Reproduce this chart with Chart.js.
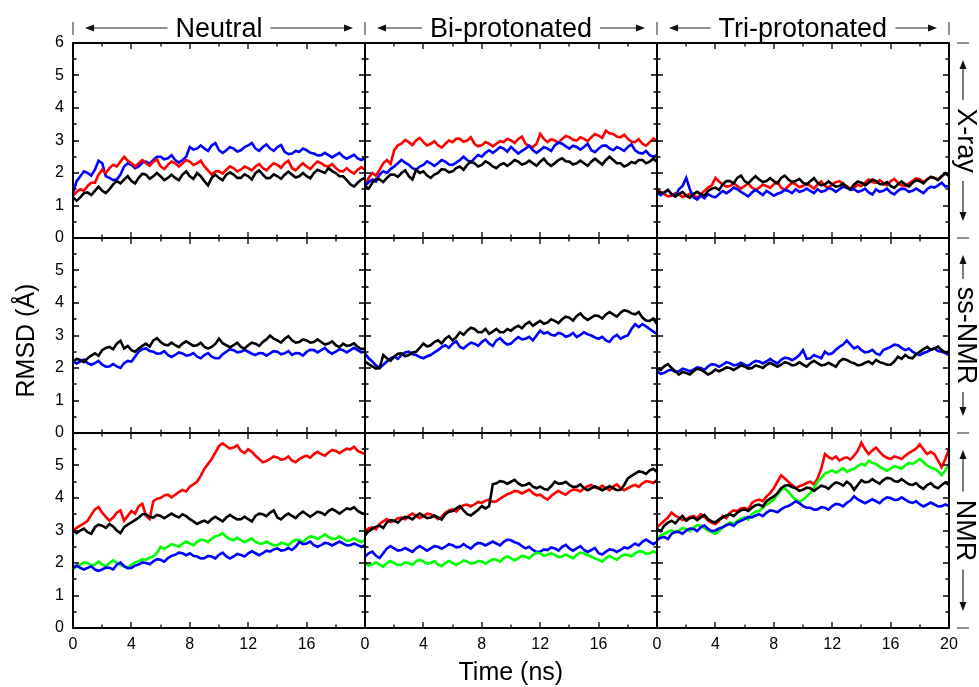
<!DOCTYPE html>
<html><head><meta charset="utf-8">
<script src="https://cdn.jsdelivr.net/npm/chart.js@4.4.1/dist/chart.umd.min.js"></script>
<style>
html,body{margin:0;padding:0;background:#fff;}
body{width:979px;height:687px;position:relative;overflow:hidden;font-family:"Liberation Sans",Arial,Helvetica,sans-serif;}
canvas{position:absolute;}
.lbl{position:absolute;white-space:nowrap;color:#000;}
svg{position:absolute;left:0;top:0;}
</style></head>
<body>
<script>
// ---------------- data ----------------
const time = [0,0.25,0.5,0.75,1,1.25,1.5,1.75,2,2.25,2.5,2.75,3,3.25,3.5,3.75,4,4.25,4.5,4.75,5,5.25,5.5,5.75,6,6.25,6.5,6.75,7,7.25,7.5,7.75,8,8.25,8.5,8.75,9,9.25,9.5,9.75,10,10.25,10.5,10.75,11,11.25,11.5,11.75,12,12.25,12.5,12.75,13,13.25,13.5,13.75,14,14.25,14.5,14.75,15,15.25,15.5,15.75,16,16.25,16.5,16.75,17,17.25,17.5,17.75,18,18.25,18.5,18.75,19,19.25,19.5,19.75,20];
const xTickLabels = ['0','4','8','12','16','20'];
const yTickLabels = ['0','1','2','3','4','5','6'];
const columnTitles = ['Neutral','Bi-protonated','Tri-protonated'];
const rowTitles = ['X-ray','ss-NMR','NMR'];
const xTitle = 'Time (ns)';
const yTitle = 'RMSD (Å)';

// X-ray / Neutral
const xray_neutral_black = [1.25,1.15,1.25,1.38,1.4,1.32,1.45,1.58,1.45,1.38,1.5,1.65,1.75,1.68,1.8,1.9,1.75,1.68,1.85,1.98,1.95,1.82,1.9,2.0,1.9,1.78,1.85,1.95,1.85,1.78,1.95,2.05,1.9,1.82,2.0,1.9,1.75,1.62,1.85,1.95,1.85,1.78,1.95,2.02,1.95,1.85,1.85,1.96,1.9,1.8,2.0,2.08,1.95,1.84,1.85,1.96,1.9,1.82,1.95,2.04,1.95,1.86,1.9,2.0,1.9,1.84,2.0,2.1,2.05,2.0,2.15,2.06,2.0,1.9,1.9,1.78,1.65,1.58,1.7,1.8,1.85];
const xray_neutral_red   = [1.3,1.42,1.5,1.45,1.6,1.7,1.7,1.95,2.1,2.0,2.15,2.25,2.2,2.35,2.5,2.38,2.3,2.2,2.3,2.4,2.3,2.22,2.35,2.42,2.2,2.12,2.25,2.35,2.3,2.2,2.3,2.4,2.35,2.25,2.3,2.38,2.2,2.08,1.95,2.05,2.05,1.98,2.1,2.2,2.15,2.05,2.1,2.2,2.15,2.08,2.2,2.28,2.15,2.08,2.2,2.3,2.25,2.16,2.3,2.38,2.15,2.08,2.2,2.3,2.2,2.12,2.25,2.35,2.3,2.22,2.2,2.28,2.15,2.06,2.05,2.15,2.05,1.98,2.1,2.18,2.1];
const xray_neutral_blue  = [1.4,1.75,1.9,2.05,2.0,1.92,2.1,2.38,2.3,1.9,1.85,1.78,1.8,1.95,2.2,2.3,2.25,2.15,2.2,2.32,2.35,2.28,2.4,2.5,2.5,2.42,2.45,2.55,2.4,2.32,2.4,2.5,2.8,2.72,2.75,2.85,2.75,2.68,2.85,2.92,2.7,2.62,2.7,2.8,2.75,2.66,2.7,2.8,2.85,2.92,2.75,2.68,2.8,2.88,2.75,2.68,2.8,2.86,2.65,2.58,2.6,2.68,2.65,2.75,2.7,2.62,2.6,2.54,2.55,2.62,2.55,2.48,2.55,2.62,2.5,2.44,2.5,2.56,2.45,2.4,2.45];
// X-ray / Bi-protonated
const xray_bi_black = [1.6,1.52,1.7,1.82,1.8,1.72,1.85,1.95,1.95,1.88,2.0,2.08,1.9,1.8,2.1,2.0,2.05,1.92,1.85,1.95,2.0,2.12,2.1,2.02,2.05,2.15,2.2,2.1,2.25,2.35,2.3,2.2,2.25,2.36,2.3,2.2,2.15,2.25,2.3,2.22,2.3,2.4,2.35,2.26,2.3,2.38,2.3,2.22,2.35,2.44,2.3,2.22,2.3,2.4,2.45,2.36,2.35,2.26,2.3,2.38,2.3,2.22,2.35,2.44,2.35,2.26,2.4,2.5,2.4,2.3,2.3,2.2,2.25,2.34,2.3,2.4,2.4,2.3,2.35,2.44,2.35];
const xray_bi_red   = [1.6,1.85,2.0,1.92,2.1,2.3,2.4,2.28,2.7,2.85,2.9,3.02,2.95,2.86,3.0,3.08,2.95,2.85,2.9,2.98,2.85,2.78,2.9,3.0,2.95,3.06,3.05,2.96,3.0,3.1,2.9,2.82,2.85,2.95,2.9,2.82,2.9,2.98,2.95,3.05,3.0,2.92,3.05,3.12,2.9,2.82,2.8,2.9,3.2,3.05,2.95,3.04,3.0,2.92,3.05,3.14,3.1,3.02,3.0,3.1,3.05,2.98,3.1,3.2,3.15,3.08,3.3,3.22,3.2,3.12,3.1,3.18,3.05,2.96,2.95,3.04,2.9,2.84,2.95,3.06,3.0];
const xray_bi_blue  = [1.6,1.72,1.8,1.74,1.95,2.05,2.0,2.12,2.2,2.3,2.4,2.32,2.25,2.15,2.1,2.2,2.25,2.36,2.3,2.22,2.3,2.4,2.35,2.26,2.25,2.32,2.4,2.5,2.4,2.32,2.45,2.55,2.5,2.62,2.7,2.62,2.7,2.8,2.75,2.66,2.8,2.7,2.6,2.68,2.75,2.84,2.7,2.62,2.7,2.8,2.75,2.68,2.85,2.94,2.9,2.82,2.75,2.84,2.8,2.72,2.8,2.9,2.7,2.64,2.75,2.84,2.85,2.76,2.7,2.8,2.75,2.68,2.8,2.88,2.7,2.62,2.6,2.68,2.55,2.5,2.55];
// X-ray / Tri-protonated
const xray_tri_black = [1.45,1.38,1.4,1.48,1.35,1.28,1.35,1.42,1.3,1.24,1.35,1.42,1.35,1.3,1.45,1.52,1.55,1.48,1.65,1.75,1.75,1.68,1.85,1.92,1.75,1.68,1.8,1.9,1.8,1.72,1.75,1.84,1.75,1.68,1.85,1.92,1.8,1.72,1.75,1.82,1.7,1.64,1.75,1.84,1.7,1.62,1.65,1.74,1.65,1.58,1.6,1.68,1.55,1.5,1.65,1.74,1.7,1.62,1.7,1.8,1.75,1.66,1.65,1.72,1.6,1.54,1.65,1.74,1.65,1.58,1.7,1.78,1.75,1.68,1.8,1.88,1.85,1.78,1.9,2.0,1.9];
const xray_tri_red   = [1.5,1.42,1.35,1.28,1.3,1.38,1.35,1.26,1.3,1.36,1.3,1.24,1.35,1.45,1.55,1.62,1.85,1.74,1.65,1.58,1.6,1.68,1.6,1.52,1.6,1.68,1.55,1.48,1.55,1.64,1.6,1.54,1.65,1.72,1.55,1.48,1.6,1.7,1.65,1.56,1.6,1.68,1.6,1.52,1.65,1.74,1.6,1.54,1.65,1.72,1.75,1.66,1.6,1.52,1.55,1.64,1.6,1.7,1.8,1.72,1.7,1.78,1.7,1.62,1.75,1.82,1.7,1.62,1.6,1.68,1.75,1.84,1.8,1.72,1.8,1.88,1.85,1.8,1.9,1.98,1.95];
const xray_tri_blue  = [1.4,1.32,1.4,1.48,1.35,1.28,1.5,1.6,1.85,1.5,1.25,1.18,1.3,1.22,1.35,1.28,1.25,1.35,1.45,1.38,1.45,1.55,1.5,1.42,1.35,1.28,1.4,1.48,1.4,1.32,1.45,1.38,1.3,1.36,1.4,1.48,1.45,1.38,1.5,1.42,1.45,1.52,1.45,1.38,1.5,1.42,1.45,1.54,1.5,1.42,1.5,1.58,1.55,1.48,1.5,1.42,1.45,1.52,1.4,1.34,1.5,1.42,1.45,1.52,1.4,1.34,1.45,1.52,1.5,1.42,1.45,1.52,1.45,1.38,1.5,1.58,1.55,1.62,1.7,1.58,1.6];
// ss-NMR / Neutral
const ssnmr_neutral_black = [2.2,2.28,2.25,2.18,2.3,2.38,2.45,2.38,2.55,2.62,2.65,2.58,2.75,2.84,2.6,2.68,2.55,2.5,2.6,2.68,2.75,2.66,2.85,2.92,2.8,2.72,2.7,2.78,2.7,2.64,2.75,2.82,2.75,2.68,2.7,2.78,2.65,2.6,2.65,2.74,2.9,2.76,2.7,2.64,2.7,2.78,2.65,2.6,2.7,2.78,2.75,2.68,2.8,2.88,3.0,2.9,2.85,2.78,2.9,2.98,2.85,2.78,2.8,2.88,2.85,2.78,2.8,2.88,2.8,2.72,2.75,2.82,2.7,2.64,2.75,2.68,2.7,2.76,2.65,2.58,2.6];
const ssnmr_neutral_blue  = [2.2,2.14,2.2,2.26,2.15,2.1,2.15,2.22,2.1,2.04,2.05,2.12,2.05,2.0,2.15,2.22,2.2,2.35,2.5,2.58,2.6,2.52,2.5,2.44,2.45,2.52,2.4,2.34,2.4,2.48,2.45,2.38,2.4,2.46,2.35,2.3,2.4,2.46,2.35,2.3,2.3,2.42,2.5,2.58,2.55,2.48,2.5,2.56,2.5,2.44,2.4,2.46,2.45,2.38,2.45,2.52,2.5,2.42,2.45,2.52,2.4,2.46,2.45,2.38,2.5,2.56,2.55,2.48,2.55,2.62,2.5,2.44,2.5,2.58,2.55,2.48,2.55,2.62,2.55,2.48,2.5];
// ss-NMR / Bi-protonated
const ssnmr_bi_black = [2.2,2.12,2.05,1.98,2.0,2.4,2.3,2.22,2.35,2.44,2.45,2.36,2.4,2.48,2.5,2.62,2.75,2.66,2.7,2.8,2.85,2.76,2.9,2.98,2.85,2.95,3.1,3.02,3.15,3.24,3.2,3.1,3.1,3.2,3.05,3.12,3.2,3.1,3.1,3.2,3.15,3.24,3.3,3.22,3.35,3.42,3.3,3.38,3.45,3.36,3.4,3.5,3.45,3.38,3.5,3.58,3.55,3.46,3.6,3.68,3.55,3.48,3.55,3.62,3.6,3.52,3.65,3.72,3.65,3.58,3.7,3.78,3.75,3.68,3.65,3.72,3.55,3.46,3.45,3.52,3.35];
const ssnmr_bi_blue  = [2.45,2.3,2.2,2.08,2.0,2.1,2.2,2.3,2.35,2.28,2.4,2.48,2.5,2.42,2.4,2.34,2.3,2.36,2.4,2.48,2.55,2.64,2.7,2.62,2.75,2.82,2.65,2.6,2.7,2.78,2.75,2.68,2.8,2.88,2.75,2.68,2.85,2.92,2.8,2.72,2.75,2.86,2.95,2.88,2.9,2.96,2.85,3.0,3.15,3.06,3.1,3.02,3.0,3.08,3.05,2.96,3.0,3.08,2.95,3.02,3.1,3.04,3.0,2.94,2.9,2.96,2.85,2.8,2.95,3.02,2.9,2.96,3.0,3.2,3.35,3.26,3.35,3.28,3.2,3.12,3.05];
// ss-NMR / Tri-protonated
const ssnmr_tri_black = [2.0,1.94,2.05,2.12,2.0,1.9,1.8,1.88,1.85,1.8,1.9,1.98,1.95,1.88,1.8,1.86,1.95,1.9,1.95,2.02,2.0,1.94,2.0,2.08,2.05,1.98,2.0,2.08,2.05,2.0,2.1,2.16,2.1,2.04,2.1,2.18,2.15,2.08,2.1,2.18,2.1,2.04,2.15,2.22,2.15,2.08,2.1,2.16,2.1,2.04,2.2,2.28,2.25,2.18,2.15,2.08,2.1,2.16,2.2,2.12,2.25,2.18,2.15,2.1,2.1,2.2,2.35,2.28,2.4,2.32,2.3,2.42,2.5,2.58,2.65,2.56,2.6,2.66,2.55,2.48,2.5];
const ssnmr_tri_blue  = [1.9,1.82,1.85,1.92,1.95,1.88,1.9,1.98,1.95,1.9,1.95,2.02,2.0,1.94,2.05,2.12,2.1,2.04,2.1,2.18,2.15,2.08,2.1,2.16,2.1,2.06,2.15,2.22,2.2,2.14,2.2,2.28,2.2,2.14,2.25,2.32,2.3,2.24,2.3,2.4,2.55,2.28,2.3,2.4,2.35,2.3,2.5,2.42,2.45,2.56,2.65,2.72,2.85,2.72,2.6,2.66,2.55,2.48,2.5,2.56,2.45,2.4,2.55,2.6,2.65,2.72,2.7,2.62,2.55,2.6,2.5,2.44,2.4,2.46,2.5,2.56,2.6,2.52,2.5,2.46,2.4];
// NMR / Neutral
const nmr_neutral_black = [3.0,2.92,3.0,3.06,2.95,2.9,3.1,3.18,3.15,3.08,3.2,3.12,3.0,2.92,3.1,3.18,3.25,3.32,3.4,3.5,3.5,3.42,3.4,3.48,3.45,3.38,3.45,3.52,3.45,3.4,3.5,3.44,3.35,3.28,3.2,3.26,3.3,3.24,3.35,3.42,3.35,3.28,3.4,3.48,3.4,3.34,3.35,3.42,3.35,3.28,3.45,3.52,3.5,3.44,3.55,3.62,3.4,3.34,3.45,3.52,3.45,3.38,3.5,3.58,3.5,3.42,3.5,3.58,3.55,3.48,3.6,3.66,3.6,3.52,3.6,3.68,3.65,3.72,3.6,3.54,3.5];
const nmr_neutral_red   = [3.0,3.08,3.15,3.22,3.3,3.48,3.65,3.72,3.55,3.42,3.3,3.4,3.55,3.62,3.3,3.45,3.6,3.52,3.75,3.82,3.45,3.35,3.9,3.98,4.0,4.08,4.1,4.02,4.1,4.18,4.25,4.2,4.35,4.42,4.5,4.68,4.9,5.05,5.2,5.4,5.6,5.68,5.6,5.52,5.55,5.62,5.45,5.38,5.5,5.42,5.3,5.2,5.1,5.14,5.2,5.28,5.25,5.18,5.2,5.28,5.15,5.1,5.2,5.26,5.3,5.24,5.35,5.42,5.35,5.3,5.4,5.48,5.45,5.38,5.45,5.52,5.5,5.58,5.45,5.4,5.35];
const nmr_neutral_blue  = [1.85,1.92,1.85,1.8,1.85,1.9,1.8,1.76,1.8,1.86,1.85,1.8,1.95,2.02,1.9,1.84,1.85,1.92,1.95,2.02,2.0,1.96,2.05,2.12,2.1,2.04,2.15,2.22,2.25,2.32,2.3,2.24,2.3,2.22,2.2,2.14,2.15,2.22,2.2,2.14,2.25,2.32,2.2,2.14,2.2,2.28,2.25,2.2,2.3,2.36,2.3,2.24,2.3,2.38,2.35,2.42,2.45,2.38,2.4,2.46,2.4,2.5,2.65,2.58,2.6,2.66,2.55,2.5,2.55,2.62,2.6,2.54,2.6,2.66,2.6,2.54,2.55,2.6,2.55,2.5,2.55];
const nmr_neutral_green = [1.8,1.9,1.95,2.02,2.0,1.92,1.95,2.04,1.95,1.9,2.0,2.08,2.0,1.94,1.9,1.84,1.95,2.02,2.05,2.12,2.1,2.16,2.2,2.3,2.5,2.44,2.5,2.58,2.55,2.5,2.6,2.66,2.6,2.54,2.65,2.72,2.7,2.64,2.75,2.82,2.85,2.92,2.8,2.74,2.7,2.78,2.7,2.64,2.7,2.76,2.65,2.6,2.6,2.66,2.6,2.54,2.55,2.62,2.6,2.54,2.65,2.72,2.7,2.64,2.75,2.82,2.8,2.74,2.8,2.88,2.8,2.74,2.75,2.82,2.75,2.68,2.7,2.76,2.7,2.64,2.7];
// NMR / Bi-protonated
const nmr_bi_black = [2.85,2.98,3.05,3.12,3.15,3.08,3.25,3.32,3.3,3.24,3.35,3.42,3.4,3.34,3.45,3.52,3.45,3.38,3.4,3.46,3.4,3.34,3.5,3.58,3.6,3.68,3.75,3.62,3.5,3.46,3.55,3.64,3.75,3.68,3.75,4.42,4.45,4.52,4.5,4.44,4.5,4.56,4.45,4.38,4.4,4.46,4.35,4.3,4.35,4.28,4.25,4.36,4.5,4.44,4.45,4.5,4.4,4.34,4.35,4.42,4.3,4.24,4.3,4.36,4.3,4.24,4.3,4.36,4.3,4.24,4.25,4.4,4.6,4.68,4.75,4.82,4.8,4.74,4.85,4.9,4.8];
const nmr_bi_red   = [3.0,3.06,3.1,3.04,3.2,3.28,3.35,3.26,3.3,3.38,3.4,3.34,3.45,3.52,3.45,3.38,3.45,3.52,3.5,3.44,3.35,3.42,3.55,3.62,3.65,3.58,3.7,3.78,3.8,3.74,3.8,3.88,3.85,3.92,3.95,3.88,3.9,3.98,4.05,4.12,4.15,4.22,4.2,4.14,4.2,4.26,4.15,4.08,4.1,4.02,3.95,4.06,4.15,4.22,4.15,4.1,4.2,4.26,4.25,4.2,4.3,4.36,4.4,4.32,4.3,4.38,4.3,4.24,4.35,4.42,4.3,4.24,4.3,4.36,4.4,4.34,4.45,4.52,4.5,4.46,4.55];
const nmr_bi_blue  = [2.2,2.3,2.35,2.22,2.15,2.3,2.45,2.52,2.45,2.38,2.4,2.46,2.4,2.34,2.45,2.52,2.45,2.38,2.45,2.52,2.5,2.44,2.5,2.58,2.55,2.48,2.5,2.58,2.5,2.44,2.55,2.62,2.6,2.54,2.6,2.66,2.6,2.54,2.65,2.72,2.7,2.64,2.6,2.52,2.45,2.5,2.4,2.34,2.35,2.42,2.4,2.48,2.45,2.38,2.5,2.56,2.45,2.38,2.45,2.52,2.4,2.34,2.4,2.46,2.3,2.26,2.35,2.42,2.4,2.34,2.4,2.48,2.45,2.52,2.6,2.54,2.65,2.72,2.65,2.58,2.65];
const nmr_bi_green = [2.0,1.92,1.95,2.02,1.95,1.88,2.0,2.06,2.0,1.94,1.95,2.02,2.0,1.94,2.05,2.1,2.05,1.98,2.0,2.06,1.95,1.9,2.0,2.06,2.0,1.94,2.0,2.08,2.05,1.98,2.0,2.06,2.05,1.98,2.05,2.12,2.1,2.04,2.15,2.2,2.15,2.08,2.15,2.22,2.2,2.14,2.25,2.32,2.3,2.22,2.25,2.3,2.25,2.18,2.2,2.26,2.2,2.14,2.25,2.32,2.3,2.24,2.2,2.14,2.1,2.04,2.15,2.22,2.15,2.1,2.2,2.26,2.25,2.2,2.3,2.36,2.35,2.28,2.3,2.36,2.3];
// NMR / Tri-protonated
const nmr_tri_black = [3.05,2.98,3.15,3.24,3.3,3.22,3.35,3.45,3.3,3.38,3.4,3.32,3.4,3.48,3.35,3.28,3.25,3.34,3.4,3.46,3.5,3.44,3.55,3.62,3.65,3.6,3.7,3.78,3.8,3.74,3.9,3.98,4.05,4.15,4.3,4.38,4.4,4.34,4.3,4.22,4.25,4.32,4.3,4.22,4.3,4.38,4.35,4.28,4.4,4.48,4.45,4.38,4.5,4.42,4.25,4.4,4.55,4.48,4.5,4.58,4.5,4.44,4.55,4.62,4.6,4.52,4.5,4.58,4.5,4.42,4.4,4.46,4.35,4.28,4.4,4.46,4.35,4.3,4.4,4.48,4.4];
const nmr_tri_red   = [3.1,3.2,3.3,3.4,3.55,3.46,3.4,3.32,3.35,3.42,3.45,3.38,3.5,3.42,3.3,3.24,3.2,3.3,3.45,3.38,3.55,3.62,3.6,3.68,3.7,3.64,3.85,3.92,3.95,3.9,4.05,4.15,4.3,4.5,4.7,4.6,4.5,4.4,4.3,4.36,4.4,4.46,4.5,4.42,4.6,4.9,5.35,5.26,5.2,5.28,5.15,5.22,5.25,5.18,5.3,5.45,5.7,5.5,5.35,5.46,5.55,5.42,5.3,5.24,5.2,5.28,5.25,5.2,5.3,5.38,5.45,5.52,5.65,5.5,5.35,5.42,5.35,5.15,4.95,5.2,5.5];
const nmr_tri_blue  = [2.7,2.78,2.8,2.74,2.9,2.96,2.95,2.9,3.0,3.06,3.05,2.98,3.1,3.16,3.05,2.98,3.0,3.06,3.1,3.16,3.2,3.14,3.25,3.3,3.35,3.42,3.4,3.46,3.5,3.44,3.55,3.62,3.6,3.56,3.65,3.72,3.75,3.82,3.9,3.84,3.75,3.7,3.7,3.64,3.65,3.72,3.7,3.64,3.75,3.82,3.8,3.74,3.85,3.92,4.05,3.96,3.9,3.84,3.9,3.96,3.9,3.84,3.95,4.02,4.0,3.94,3.95,4.02,3.95,3.88,3.85,3.9,3.8,3.74,3.8,3.86,3.8,3.74,3.75,3.8,3.75];
const nmr_tri_green = [2.75,2.84,2.9,2.96,3.0,2.94,3.0,3.08,3.05,2.98,3.1,3.16,3.15,3.08,3.0,2.95,2.9,2.98,3.1,3.18,3.25,3.2,3.3,3.36,3.4,3.34,3.5,3.58,3.6,3.7,3.8,3.86,3.95,4.1,4.25,4.3,4.2,4.05,3.95,3.88,3.95,4.05,4.15,4.3,4.5,4.62,4.75,4.8,4.85,4.78,4.85,4.92,4.8,4.86,4.9,4.98,5.05,5.0,5.15,5.08,5.05,4.96,4.9,4.84,4.9,4.98,4.95,4.9,5.0,5.08,5.05,5.12,5.2,5.1,5.0,4.94,4.9,4.82,4.7,4.85,5.05];

const BLACK='#000000', RED='#ff0000', BLUE='#0000ff', GREEN='#00ff00';
const panels = [
  [ [[xray_neutral_black,BLACK],[xray_neutral_red,RED],[xray_neutral_blue,BLUE]],
    [[xray_bi_black,BLACK],[xray_bi_blue,BLUE],[xray_bi_red,RED]],
    [[xray_tri_black,BLACK],[xray_tri_blue,BLUE],[xray_tri_red,RED]] ],
  [ [[ssnmr_neutral_black,BLACK],[ssnmr_neutral_blue,BLUE]],
    [[ssnmr_bi_black,BLACK],[ssnmr_bi_blue,BLUE]],
    [[ssnmr_tri_black,BLACK],[ssnmr_tri_blue,BLUE]] ],
  [ [[nmr_neutral_blue,BLUE],[nmr_neutral_green,GREEN],[nmr_neutral_black,BLACK],[nmr_neutral_red,RED]],
    [[nmr_bi_green,GREEN],[nmr_bi_blue,BLUE],[nmr_bi_black,BLACK],[nmr_bi_red,RED]],
    [[nmr_tri_blue,BLUE],[nmr_tri_black,BLACK],[nmr_tri_green,GREEN],[nmr_tri_red,RED]] ]
];

// ---------------- layout ----------------
const colLeft=[73,365,657], colW=292;
const rowTop=[43,238,433], rowH=195;
const ML=50, MR=24, MT=20, MB=36;
const FONT='"Liberation Sans", Arial, Helvetica, sans-serif';

const framePlugin = {
  id:'frame',
  afterDatasetsDraw(chart){
    const {ctx, chartArea:a, scales:{x,y}} = chart;
    ctx.save();
    ctx.strokeStyle='#000';
    ctx.lineWidth=1.3;
    ctx.beginPath();
    for(let t=0;t<=20;t+=2){
      const px=Math.round(x.getPixelForValue(t));
      const len=(t%4===0)?6:3.5;
      ctx.moveTo(px,a.bottom); ctx.lineTo(px,a.bottom-len);
      ctx.moveTo(px,a.top); ctx.lineTo(px,a.top+len);
    }
    for(let v=0;v<=6;v+=0.5){
      const py=Math.round(y.getPixelForValue(v));
      const len=(v%1===0)?6:3.5;
      ctx.moveTo(a.left,py); ctx.lineTo(a.left+len,py);
      ctx.moveTo(a.right,py); ctx.lineTo(a.right-len,py);
    }
    ctx.stroke();
    ctx.lineWidth=2;
    ctx.strokeRect(a.left,a.top,a.right-a.left,a.bottom-a.top);
    ctx.restore();
  }
};

for(let r=0;r<3;r++){
  for(let c=0;c<3;c++){
    const cv=document.createElement('canvas');
    const W=colW+ML+MR, H=rowH+MT+MB;
    cv.width=W; cv.height=H;
    cv.style.width=W+'px'; cv.style.height=H+'px';
    cv.style.left=(colLeft[c]-ML)+'px'; cv.style.top=(rowTop[r]-MT)+'px';
    document.body.appendChild(cv);
    const datasets=panels[r][c].map(([vals,col])=>({
      data: time.map((t,i)=>({x:t,y:vals[i]})),
      borderColor:col, backgroundColor:col, borderWidth:2.6,
      pointRadius:0, tension:0, fill:false
    }));
    const ch = new Chart(cv,{
      type:'line',
      data:{datasets},
      plugins:[framePlugin],
      options:{
        responsive:false, animation:false, devicePixelRatio:1,
        layout:{padding:{top:MT,right:MR,left:0,bottom:0}},
        plugins:{legend:{display:false},tooltip:{enabled:false},title:{display:false}},
        scales:{
          x:{type:'linear',min:0,max:20,
             grid:{display:false,drawTicks:false}, border:{display:false},
             ticks:{stepSize:4,autoSkip:false,maxRotation:0,color:'#000',padding:7,
                    display:r===2, font:{size:16,family:FONT},
                    callback:(v)=>{ if(v===20 && c<2) return ''; return xTickLabels[v/4]; }},
             afterFit:(s)=>{s.height=MB;}},
          y:{type:'linear',min:0,max:6,
             grid:{display:false,drawTicks:false}, border:{display:false},
             ticks:{stepSize:1,autoSkip:false,color:'#000',padding:9,
                    display:c===0, font:{size:16,family:FONT},
                    callback:(v)=>{ if(v===6 && r>0) return ''; return yTickLabels[v]; }},
             afterFit:(s)=>{s.width=ML;}}
        }
      }
    });
    // make the plot area exactly match the panel rectangle
    let a=ch.chartArea;
    const dw=colW-(a.right-a.left), dh=rowH-(a.bottom-a.top);
    if(Math.abs(dw)>0.01 || Math.abs(dh)>0.01){ ch.resize(W+dw,H+dh); a=ch.chartArea; }
    cv.style.left=(colLeft[c]-a.left)+'px';
    cv.style.top=(rowTop[r]-a.top)+'px';
  }
}

// ---------------- titles & arrows ----------------
function addLabel(text,size,cx,cy,rot){
  const d=document.createElement('div');
  d.className='lbl';
  d.textContent=text;
  d.style.fontSize=size+'px';
  d.style.lineHeight=size+'px';
  document.body.appendChild(d);
  const w=d.offsetWidth, h=d.offsetHeight;
  d.style.left=(cx-w/2)+'px'; d.style.top=(cy-h/2)+'px';
  if(rot) d.style.transform='rotate('+rot+'deg)';
  return w;
}
const svgNS='http://www.w3.org/2000/svg';
const svg=document.createElementNS(svgNS,'svg');
svg.setAttribute('width','979'); svg.setAttribute('height','687');
document.body.appendChild(svg);
function line(x1,y1,x2,y2,col,w){
  const l=document.createElementNS(svgNS,'line');
  l.setAttribute('x1',x1);l.setAttribute('y1',y1);l.setAttribute('x2',x2);l.setAttribute('y2',y2);
  l.setAttribute('stroke',col);l.setAttribute('stroke-width',w);
  svg.appendChild(l);
}
function arrow(x1,y1,x2,y2){ // head at (x2,y2)
  const dx=x2-x1, dy=y2-y1, L=Math.hypot(dx,dy), ux=dx/L, uy=dy/L;
  const hl=9, hw=3.5;
  line(x1,y1,x2-ux*hl*0.8,y2-uy*hl*0.8,'#222',1.2);
  const p=document.createElementNS(svgNS,'polygon');
  const bx=x2-ux*hl, by=y2-uy*hl;
  p.setAttribute('points',`${x2},${y2} ${bx-uy*hw},${by+ux*hw} ${bx+uy*hw},${by-ux*hw}`);
  p.setAttribute('fill','#111');
  svg.appendChild(p);
}
// column titles
const TY=28;
for(let c=0;c<3;c++){
  const L=colLeft[c], R=L+colW, cx=(L+R)/2;
  const w=addLabel(columnTitles[c],27,cx,TY,0);
  arrow(cx-w/2-8,TY,L+12,TY);
  arrow(cx+w/2+8,TY,R-12,TY);
}
[73,365,657,949].forEach(x=>line(x,22,x,35,'#555',1.3));
// row titles
const SX=964;
for(let r=0;r<3;r++){
  const T=rowTop[r], B=T+rowH, cy=(T+B)/2;
  const w=addLabel(rowTitles[r],27,SX+2,cy,90);
  arrow(SX-1,cy-w/2-8,SX-1,T+17);
  arrow(SX-1,cy+w/2+8,SX-1,B-17);
}
[43,238,433,628].forEach(y=>line(957,y,969,y,'#555',1.3));
// axis titles
addLabel(yTitle,25,26,340,-90);
addLabel(xTitle,25,511,671,0);
</script>
</body></html>
